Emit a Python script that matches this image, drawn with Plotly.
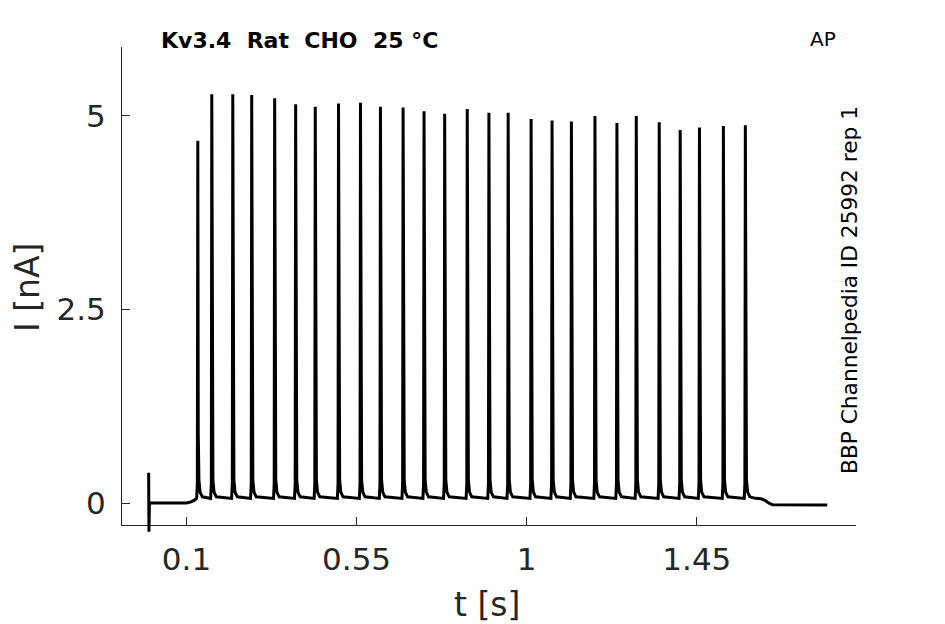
import plotly.graph_objects as go

# ---------------- data ----------------
# spike peak times [s] and peak currents [nA]
spike_times = [0.130, 0.167, 0.2225, 0.2726, 0.3333, 0.3888, 0.4407, 0.5022,
               0.5603, 0.6131, 0.6730, 0.7284, 0.7830, 0.8427, 0.9000, 0.9509,
               1.0116, 1.0670, 1.1182, 1.1805, 1.2386, 1.2898, 1.3505, 1.4059,
               1.4569, 1.5202, 1.5783]
spike_peaks = [4.68, 5.28, 5.28, 5.27, 5.23, 5.15, 5.12, 5.16,
               5.17, 5.12, 5.11, 5.06, 5.03, 5.09, 5.04, 5.04,
               4.96, 4.94, 4.93, 5.00, 4.91, 5.00, 4.92, 4.82,
               4.85, 4.87, 4.88]
# shape of one spike: time offsets [s] and currents [nA]
# (the None entry is replaced by the spike's own peak)
spike_offsets = [-0.003, -0.0012, 0.0, 0.0012, 0.003, 0.006, 0.012]
spike_levels = [0.06, 0.25, None, 0.9, 0.30, 0.14, 0.08]
# trace before the first spike (stimulus artefact at t = 0, then holding level)
pre_t = [0.0, 0.0008, 0.002, 0.100, 0.112, 0.122]
pre_i = [0.39, -0.37, 0.0, 0.0, 0.015, 0.04]
# trace after the last spike
post_t = [1.605, 1.620, 1.630, 1.640, 1.650, 1.795]
post_i = [0.06, 0.055, 0.035, 0.0, -0.022, -0.025]

x_ticks = [0.1, 0.55, 1, 1.45]
x_tick_text = ["0.1", "0.55", "1", "1.45"]
y_ticks = [0, 2.5, 5]
y_tick_text = ["0", "2.5", "5"]

title_text = "Kv3.4\u00a0\u00a0Rat\u00a0\u00a0CHO\u00a0\u00a025\u00a0°C"
protocol_text = "AP"
id_text = "BBP Channelpedia ID 25992 rep 1"

# ---------------- build the trace ----------------
t_vals = list(pre_t)
i_vals = list(pre_i)
for tp, pk in zip(spike_times, spike_peaks):
    for dt, lv in zip(spike_offsets, spike_levels):
        t_vals.append(tp + dt)
        i_vals.append(pk if lv is None else lv)
t_vals += post_t
i_vals += post_i

# ---------------- layout geometry ----------------
W, H = 945, 624
L, R, T, B = 122, 89, 47, 89          # plot area incl. room for artefact tail
axis_bottom_px = 525                  # where the visible x axis sits
plot_h = H - T - B
x_range = [-0.0705, 1.871]
y_range = [-0.284, 5.891]
px_per_nA = (axis_bottom_px - T) / (y_range[1] - y_range[0])
y2_range = [y_range[1] - plot_h / px_per_nA, y_range[1]]
y_dom_bottom = (H - B - axis_bottom_px) / plot_h

def px_x(px):
    return (px - L) / (W - L - R)

def px_y(py):
    return (H - B - py) / plot_h

axis_col = "#262626"
tick_font = dict(family="DejaVu Sans", size=31, color=axis_col)

fig = go.Figure()
# empty trace so that the visible x/y axis pair is created
fig.add_trace(go.Scatter(x=[], y=[], mode="lines", xaxis="x", yaxis="y",
                         hoverinfo="skip", showlegend=False))
fig.add_trace(go.Scatter(
    x=t_vals, y=i_vals, mode="lines",
    line=dict(color="black", width=3),
    xaxis="x", yaxis="y2", hoverinfo="skip", showlegend=False))

fig.update_layout(
    width=W, height=H,
    margin=dict(l=L, r=R, t=T, b=B, autoexpand=False),
    paper_bgcolor="white", plot_bgcolor="rgba(0,0,0,0)",
    showlegend=False,
    xaxis=dict(range=x_range, anchor="y", showgrid=False, zeroline=False,
               showline=True, linecolor=axis_col, linewidth=1,
               ticks="inside", ticklen=8, tickwidth=1, tickcolor=axis_col,
               tickvals=x_ticks, ticktext=x_tick_text, tickfont=tick_font,
               ticklabelstandoff=7),
    yaxis=dict(range=y_range, domain=[y_dom_bottom, 1], anchor="x",
               showgrid=False, zeroline=False,
               showline=True, linecolor=axis_col, linewidth=1,
               ticks="inside", ticklen=8, tickwidth=1, tickcolor=axis_col,
               tickvals=y_ticks, ticktext=y_tick_text, tickfont=tick_font,
               ticklabelstandoff=9),
    yaxis2=dict(range=y2_range, domain=[0, 1], anchor="x", visible=False),
)

ann = [
    dict(text="<b>" + title_text + "</b>", x=px_x(159), y=px_y(41),
         xanchor="left", yanchor="middle",
         font=dict(family="DejaVu Sans", size=22, color="black")),
    dict(text=protocol_text, x=px_x(838), y=px_y(39),
         xanchor="right", yanchor="middle",
         font=dict(family="DejaVu Sans", size=20, color="black")),
    dict(text=id_text, x=px_x(849), y=px_y(290), textangle=-90,
         xanchor="center", yanchor="middle",
         font=dict(family="DejaVu Sans", size=21.7, color="black")),
    dict(text="t [s]", x=px_x(487), y=px_y(604),
         xanchor="center", yanchor="middle",
         font=dict(family="DejaVu Sans", size=33, color=axis_col)),
    dict(text="I [nA]", x=px_x(27), y=px_y(288), textangle=-90,
         xanchor="center", yanchor="middle",
         font=dict(family="DejaVu Sans", size=33, color=axis_col)),
]
for a in ann:
    a.update(xref="paper", yref="paper", showarrow=False)
fig.update_layout(annotations=ann)

fig.write_html("out.html",
               config={"displayModeBar": False},
               post_script="document.body.style.margin='0px';")
